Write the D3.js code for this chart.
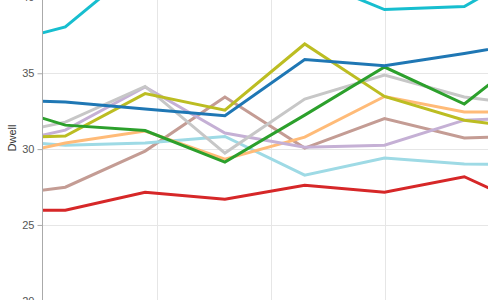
<!DOCTYPE html>
<html>
<head>
<meta charset="utf-8">
<script src="https://cdn.jsdelivr.net/npm/d3@7"></script>
<style>
  body { margin: 0; background: #fff; }
  svg { display: block; font-family: "Liberation Sans", Arial, sans-serif; }
</style>
</head>
<body>
<svg id="chart" width="488" height="300"></svg>
<script>
// day of each sample (weekly), first and last ones sit outside the visible window
const days = [-5, 2, 9, 16, 23, 30, 37, 44]

const seriesNames = ['lightbrown', 'lightcyan', 'lightorange', 'lavender', 'lightgray', 'olive', 'green', 'blue', 'red', 'cyan']
const seriesColors = ['#c49c94', '#9edae5', '#ffbb78', '#c5b0d5', '#c7c7c7', '#bcbd22', '#2ca02c', '#1f77b4', '#d62728', '#17becf']

const dwellLightbrown = [26.8, 27.49, 29.87, 33.43, 30.07, 32.01, 30.73, 30.9]
const dwellLightcyan = [30.66, 30.26, 30.4, 30.83, 28.28, 29.41, 29.01, 29.0]
const dwellLightorange = [29.27, 30.4, 31.19, 29.34, 30.79, 33.47, 32.44, 32.44]
const dwellLavender = [30.1, 31.25, 34.09, 31.06, 30.13, 30.26, 31.91, 32.1]
const dwellLightgray = [30.66, 31.78, 34.13, 29.74, 33.3, 34.88, 33.43, 32.77]
const dwellOlive = [30.7, 30.86, 33.66, 32.57, 36.93, 33.47, 31.9, 31.25]
const dwellGreen = [33.2, 31.58, 31.22, 29.14, 32.24, 35.41, 32.97, 37.1]
const dwellBlue = [33.3, 33.1, 32.64, 32.2, 35.9, 35.5, 36.3, 37.2]
const dwellRed = [25.97, 25.97, 27.16, 26.7, 27.62, 27.16, 28.18, 25.77]
const dwellCyan = [36.7, 38.05, 42.4, 43.0, 41.35, 39.2, 39.4, 42.4]

const allDwell = [dwellLightbrown, dwellLightcyan, dwellLightorange, dwellLavender, dwellLightgray,
  dwellOlive, dwellGreen, dwellBlue, dwellRed, dwellCyan]

const yTicks = [20, 25, 30, 35, 40]
const xGridTicks = [0, 10, 20, 30, 40, 50]

const svg = d3.select('#chart')

const plotLeft = 42.5
const plotRight = 620

const x = d3.scaleLinear()
  .domain([0, 50])
  .range([plotLeft, plotLeft + 570])

const y = d3.scaleLinear()
  .domain([20, 40])
  .range([300.8, -2.6])

const color = d3.scaleOrdinal()
  .domain(seriesNames)
  .range(seriesColors)

const series = seriesNames.map((name, i) => ({
  name: name,
  values: days.map((d, j) => ({ day: d, dwell: allDwell[i][j] }))
}))

svg.append('defs')
  .append('clipPath')
  .attr('id', 'plot-clip')
  .append('rect')
  .attr('x', plotLeft)
  .attr('y', -10)
  .attr('width', plotRight - plotLeft)
  .attr('height', 320)

// grid
const grid = svg.append('g').attr('class', 'grid')

grid.selectAll('line.h')
  .data(yTicks)
  .enter()
  .append('line')
  .attr('class', 'h')
  .attr('x1', plotLeft)
  .attr('x2', plotRight)
  .attr('y1', d => Math.round(y(d)) + 0.5)
  .attr('y2', d => Math.round(y(d)) + 0.5)
  .attr('stroke', '#e6e6e6')
  .attr('stroke-width', 1)

grid.selectAll('line.v')
  .data(xGridTicks.slice(1))
  .enter()
  .append('line')
  .attr('class', 'v')
  .attr('x1', d => Math.round(x(d)) + 0.5)
  .attr('x2', d => Math.round(x(d)) + 0.5)
  .attr('y1', -10)
  .attr('y2', 310)
  .attr('stroke', '#e6e6e6')
  .attr('stroke-width', 1)

// lines
const line = d3.line()
  .x(d => x(d.day))
  .y(d => y(d.dwell))

svg.append('g')
  .attr('clip-path', 'url(#plot-clip)')
  .selectAll('path')
  .data(series)
  .enter()
  .append('path')
  .attr('d', d => line(d.values))
  .attr('fill', 'none')
  .attr('stroke', d => color(d.name))
  .attr('stroke-width', 3)
  .attr('stroke-linejoin', 'miter')

// y axis
const yAxis = d3.axisLeft(y)
  .tickValues(yTicks)
  .tickSize(5)
  .tickPadding(3)

const yAxisG = svg.append('g')
  .attr('transform', `translate(${plotLeft},0)`)
  .call(yAxis)

yAxisG.select('.domain')
  .attr('d', 'M0,-10V310')
  .attr('stroke', '#aaa')

yAxisG.selectAll('.tick line').attr('stroke', '#aaa')
yAxisG.selectAll('.tick text')
  .attr('fill', '#555')
  .attr('font-size', 11)
  .attr('font-family', '"Liberation Sans", Arial, sans-serif')

svg.append('text')
  .attr('transform', 'translate(16,138) rotate(-90)')
  .attr('text-anchor', 'middle')
  .attr('fill', '#333')
  .attr('font-size', 11)
  .text('Dwell')
</script>
</body>
</html>
